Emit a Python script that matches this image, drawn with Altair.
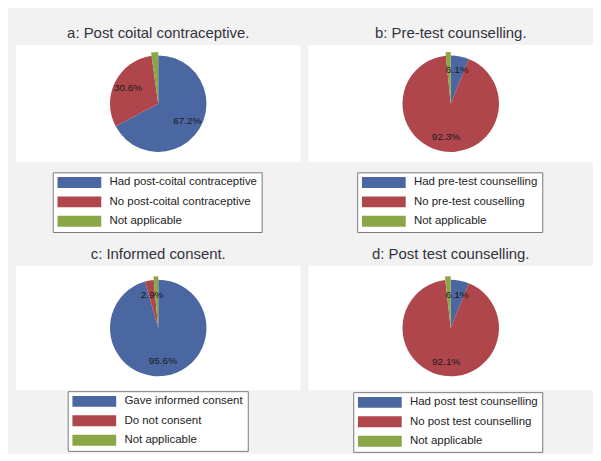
import altair as alt
import pandas as pd

titles = ["a: Post coital contraceptive.", "b: Pre-test counselling.",
          "c: Informed consent.", "d: Post test counselling."]
labels_a = ["Had post-coital contraceptive", "No post-coital contraceptive", "Not applicable"]
labels_b = ["Had pre-test counselling", "No pre-test couselling", "Not applicable"]
labels_c = ["Gave informed consent", "Do not consent", "Not applicable"]
labels_d = ["Had post test counselling", "No post test counselling", "Not applicable"]
values_a = [67.2, 30.6, 2.2]
values_b = [6.1, 92.3, 1.6]
values_c = [95.6, 2.9, 1.5]
values_d = [6.1, 92.1, 1.8]
colors = ["#4a67a1", "#af464c", "#89a746"]

FONT = "Liberation Sans"


def panel(title, labels, values, h, lx, ly):
    df = pd.DataFrame({"cat": labels, "value": values, "idx": list(range(len(labels)))})
    df["end"] = df["value"].cumsum()
    df["start"] = df["end"] - df["value"]
    df["mid"] = (df["start"] + df["end"]) / 2
    df["txt"] = df["value"].map(lambda v: f"{v:.1f}%")
    base = alt.Chart(df)
    tscale = alt.Scale(domain=[0, 100])
    color = alt.Color(
        "cat:N",
        scale=alt.Scale(domain=labels, range=colors),
        legend=alt.Legend(
            orient="none", legendX=lx, legendY=ly, direction="vertical", title=None,
            symbolType="M-4,-1H4V1H-4Z", symbolSize=121, symbolOffset=16.5,
            labelOffset=24.5, symbolStrokeWidth=0, symbolOpacity=1,
            strokeColor="#7a7a7a", fillColor="white", padding=4.5, rowPadding=6.5,
            labelFont=FONT, labelFontSize=11.5, labelColor="#222222", labelLimit=0,
        ),
    )
    main = base.transform_filter("datum.idx < 2").mark_arc(radius=48.5).encode(
        theta=alt.Theta("start:Q", scale=tscale), theta2="end:Q", color=color)
    green = base.transform_filter("datum.idx == 2").mark_arc(radius=52).encode(
        theta=alt.Theta("start:Q", scale=tscale), theta2="end:Q", color=color)
    text = base.transform_filter("datum.idx < 2").mark_text(
        fontSize=10, font=FONT, color="#1a1a1a").encode(
        theta=alt.Theta("mid:Q", scale=tscale), radius=alt.value(34), text="txt:N")
    return alt.layer(main, green, text).properties(
        width=286, height=h, title=alt.Title(title),
        view=alt.ViewBackground(fill="#ffffff", stroke=None))


pa = panel(titles[0], labels_a, values_a, 118, 37, 128)
pb = panel(titles[1], labels_b, values_b, 118, 49, 128)
pc = panel(titles[2], labels_c, values_c, 125, 52, 126)
pd_ = panel(titles[3], labels_d, values_d, 125, 45, 127)

row1 = alt.hconcat(pa, pb, spacing=8).resolve_scale(color="independent", theta="independent")
row2 = alt.hconcat(pc, pd_, spacing=8).resolve_scale(color="independent", theta="independent")
chart = alt.vconcat(row1, row2, spacing=14).resolve_scale(
    color="independent", theta="independent"
).configure(
    background="#f2f2f2", padding={"left": 8, "top": 17, "right": 0, "bottom": 0}
).configure_view(stroke=None, fill="#ffffff").configure_title(
    fontSize=15, font=FONT, color="#333340", fontWeight="normal", offset=4, anchor="middle"
)

chart.save("out.html", embed_options={"renderer": "svg", "actions": False})
